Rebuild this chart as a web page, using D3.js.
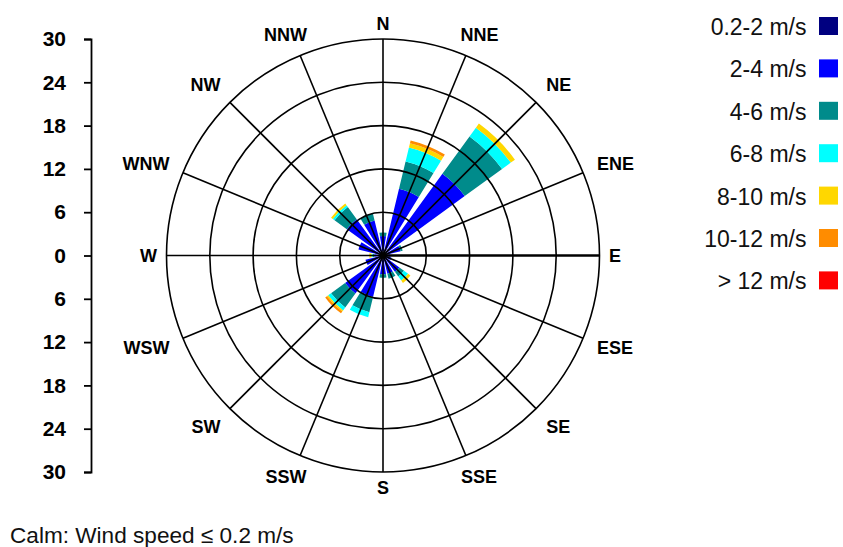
<!DOCTYPE html>
<html><head><meta charset="utf-8">
<script src="https://cdn.jsdelivr.net/npm/d3@7"></script>
<style>
html,body{margin:0;padding:0;background:#fff;}
svg{display:block;}
</style></head>
<body>
<svg id="chart" width="843" height="547"></svg>
<script>
// ---- data ----
const directions = ["N","NNE","NE","ENE","E","ESE","SE","SSE","S","SSW","SW","WSW","W","WNW","NW","NNW"];
const speedBins = ["0.2-2 m/s","2-4 m/s","4-6 m/s","6-8 m/s","8-10 m/s","10-12 m/s","> 12 m/s"];
const binColors = ["#000080","#0000ff","#008b8b","#00ffff","#ffd700","#ff8c00","#ff0000"];
// frequency (%) per direction for each speed bin
const spd0_2   = [0.6, 1.0, 1.2, 0.6, 0.4, 0.4, 0.5, 0.5, 0.5, 0.8, 0.8, 0.5, 0.3, 0.5, 0.8, 0.6];
const spd2_4   = [2.1, 8.5,12.8, 1.9, 0.6, 0.8, 2.3, 2.1, 2.1, 5.1, 5.7, 2.0, 0.9, 3.0, 5.4, 4.4];
const spd4_6   = [0.5, 3.9, 6.4, 0.3, 0.0, 0.0, 0.8, 0.7, 0.5, 2.2, 2.4, 0.0, 0.2, 0.0, 2.1, 1.0];
const spd6_8   = [0.0, 2.0, 1.5, 0.0, 0.0, 0.0, 0.7, 0.0, 0.0, 0.7, 0.5, 0.0, 0.2, 0.0, 0.3, 0.0];
const spd8_10  = [0.0, 0.6, 0.7, 0.0, 0.0, 0.0, 0.4, 0.0, 0.0, 0.0, 0.2, 0.0, 0.3, 0.0, 0.3, 0.0];
const spd10_12 = [0.0, 0.4, 0.0, 0.0, 0.0, 0.0, 0.0, 0.0, 0.0, 0.0, 0.3, 0.0, 0.0, 0.0, 0.0, 0.0];
const spd12p   = [0.0, 0.0, 0.0, 0.0, 0.0, 0.0, 0.0, 0.0, 0.0, 0.0, 0.0, 0.0, 0.0, 0.0, 0.0, 0.0];
const axisTicks = [-30,-24,-18,-12,-6,0,6,12,18,24,30];
const ringValues = [6,12,18,24,30];
const calmNote = "Calm: Wind speed \u2264 0.2 m/s";

// ---- layout ----
const cx = 383, cy = 255.5, R = 216.5;
const svg = d3.select("#chart");
const font = "'Liberation Sans', Arial, sans-serif";

const series = [spd0_2, spd2_4, spd4_6, spd6_8, spd8_10, spd10_12, spd12p];
const table = directions.map((d, i) => {
  const o = {dir: d};
  speedBins.forEach((b, j) => o[b] = series[j][i]);
  return o;
});
const stacked = d3.stack().keys(speedBins)(table);

const r = d3.scaleLinear().domain([0, 30]).range([0, R]);
const step = 2*Math.PI / directions.length;
const halfW = step * 0.4;

const g = svg.append("g").attr("transform", `translate(${cx},${cy})`);

// petals
const arc = d3.arc();
stacked.forEach((layer, j) => {
  g.append("g").selectAll("path").data(layer).join("path")
    .attr("d", d => {
      const a = directions.indexOf(d.data.dir) * step;
      return arc({innerRadius: r(d[0]), outerRadius: r(d[1]), startAngle: a - halfW, endAngle: a + halfW});
    })
    .attr("fill", binColors[j])
    .attr("stroke", "none");
});

// grid on top
g.append("g").selectAll("circle").data(ringValues).join("circle")
  .attr("r", d => r(d)).attr("fill", "none").attr("stroke", "#000").attr("stroke-width", 1.6);
g.append("g").selectAll("line").data(directions).join("line")
  .attr("x1", 0).attr("y1", 0)
  .attr("x2", (d, i) => r(30) * Math.sin(i*step))
  .attr("y2", (d, i) => -r(30) * Math.cos(i*step))
  .attr("stroke", "#000")
  .attr("stroke-width", d => d === "E" ? 2.6 : 1.6);
g.append("circle").attr("r", 3).attr("fill", "#000");

// direction labels
const lab = g.append("g").selectAll("text").data(directions).join("text")
  .text(d => d)
  .attr("font-family", font).attr("font-weight", "bold").attr("font-size", 18)
  .attr("text-anchor", "middle").attr("fill", "#000");
lab.each(function(d, i) {
  const a = i*step;
  const w = this.getComputedTextLength();
  const h = 12.9;
  const r0 = R + 9.5 + 10*Math.abs(Math.sin(2*a));
  const px = r0*Math.sin(a) + Math.sin(a)*w/2;
  const py = -r0*Math.cos(a) - Math.cos(a)*h/2;
  d3.select(this).attr("x", px).attr("y", py + h/2);
});

// left axis
const y = d3.scaleLinear().domain([-30, 30]).range([cy + R, cy - R]);
const ax = svg.append("g").attr("transform", "translate(91,0)")
  .call(d3.axisLeft(y).tickValues(axisTicks).tickFormat(d => Math.abs(d)).tickSize(7).tickPadding(18));
ax.select(".domain").attr("stroke", "#000").attr("stroke-width", 1.8);
ax.selectAll(".tick line").attr("stroke", "#000").attr("stroke-width", 1.8);
ax.selectAll(".tick text").attr("font-family", font).attr("font-weight", "bold").attr("font-size", 21).attr("fill", "#000");

// legend
const leg = svg.append("g");
speedBins.forEach((b, i) => {
  const top = 17 + 42.4*i;
  leg.append("rect").attr("x", 819).attr("y", top).attr("width", 19).attr("height", 18).attr("fill", binColors[i]);
  leg.append("text").attr("x", 806.5).attr("y", top + 18).attr("text-anchor", "end")
    .attr("font-family", font).attr("font-size", 23).attr("fill", "#111").text(b);
});

// calm note
svg.append("text").attr("x", 10).attr("y", 543).attr("font-family", font).attr("font-size", 22.6)
  .attr("fill", "#111").text(calmNote);
</script>
</body></html>
